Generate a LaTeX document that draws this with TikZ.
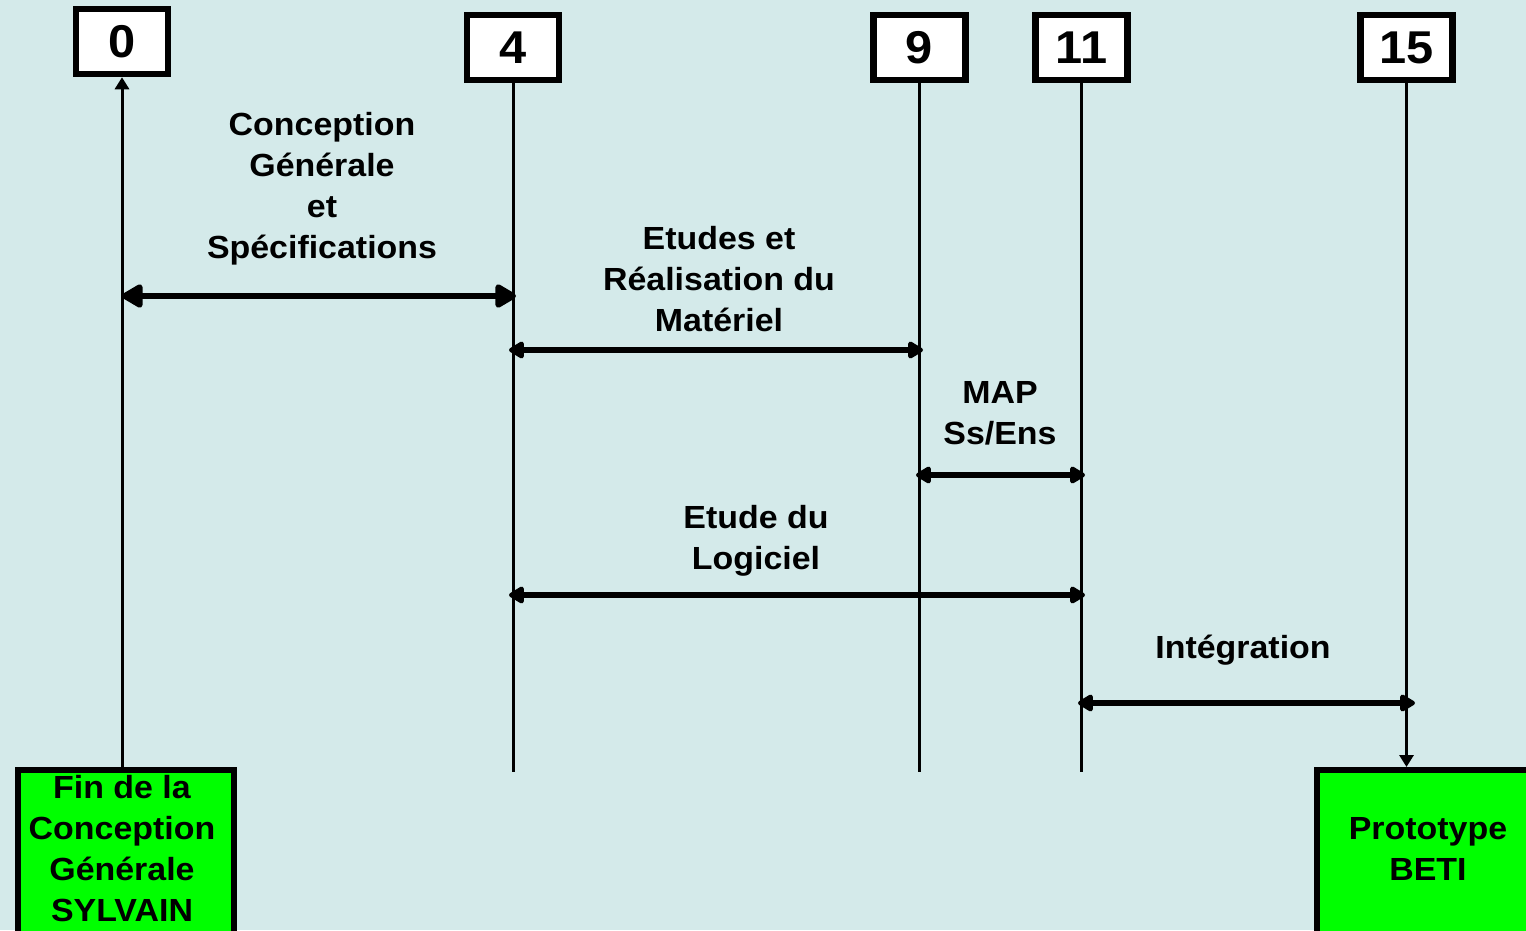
\documentclass[tikz,border=0pt]{standalone}
\usepackage{fontspec}
\setmainfont{Liberation Sans}[FakeStretch=1.06]
\usetikzlibrary{arrows.meta}
\definecolor{bgc}{HTML}{D4EAEA}
\definecolor{grn}{HTML}{00FF00}
\tikzset{
  numbox/.style={draw=black, line width=6.5pt, fill=white, minimum width=92pt, minimum height=65pt, inner sep=0pt, font=\fontsize{46}{50}\selectfont\bfseries},
  endbox/.style={draw=black, line width=6pt, fill=grn, inner sep=0pt},
  lbl/.style={align=center, font=\fontsize{32}{41}\selectfont\bfseries, inner sep=0pt},
  vline/.style={line width=3pt},
  span/.style={line width=6.5pt, {Triangle[length=17pt,width=19pt,round]}-{Triangle[length=17pt,width=19pt,round]}},
  bigspan/.style={line width=6.5pt, {Triangle[length=24pt,width=26pt,round]}-{Triangle[length=24pt,width=26pt,round]}},
  tip/.style={vline, -{Triangle[length=12pt,width=14pt]}}
}
\begin{document}
\begin{tikzpicture}[x=1pt,y=-1pt]
\fill[bgc] (0,0) rectangle (1526,930);
\useasboundingbox (0,0) rectangle (1526,930);
% top number boxes
\node[numbox] (b0) at (122,41.5) {0};
\node[numbox] (b4) at (513,47.5) {4};
\node[numbox] (b9) at (919.5,47.5) {9};
\node[numbox] (b11) at (1081.5,47.5) {11};
\node[numbox] (b15) at (1406.5,47.5) {15};
% bottom green boxes
\node[endbox, minimum width=216pt, minimum height=175pt, anchor=north west] (fin) at (15,767) {};
\node[lbl] (fintxt) at (122,849) {Fin de la\\Conception\\Générale\\SYLVAIN};
\node[endbox, minimum width=230pt, minimum height=175pt, anchor=north west] (proto) at (1314,767) {};
\node[lbl] (prototxt) at (1428,849) {Prototype\\BETI};
% bottom ends of lines
\coordinate (e4) at (512,772);
\coordinate (e9) at (919,772);
\coordinate (e11) at (1081,772);
% vertical lines
\draw[tip] (fin.north -| b0.south) -- (b0.south);
\draw[vline] (b4.south) -- (b4.south |- e4);
\draw[vline] (b9.south) -- (b9.south |- e9);
\draw[vline] (b11.south) -- (b11.south |- e11);
\draw[tip] (b15.south) -- (b15.south |- proto.north);
% span coordinates
\coordinate (s0a) at (122,296); \coordinate (s0b) at (516,296);
\coordinate (s1a) at (509,350); \coordinate (s1b) at (923,350);
\coordinate (s2a) at (916,475); \coordinate (s2b) at (1085,475);
\coordinate (s3a) at (509,595); \coordinate (s3b) at (1085,595);
\coordinate (s4a) at (1078,703); \coordinate (s4b) at (1415,703);
\draw[bigspan] (s0a) -- (s0b);
\draw[span] (s1a) -- (s1b);
\draw[span] (s2a) -- (s2b);
\draw[span] (s3a) -- (s3b);
\draw[span] (s4a) -- (s4b);
% labels
\node[lbl] (l0) at (322,189) {Conception\\Générale\\et\\Spécifications};
\node[lbl] (l1) at (719,279) {Etudes et\\Réalisation du\\Matériel};
\node[lbl] (l2) at (1000,413) {MAP\\Ss/Ens};
\node[lbl] (l3) at (756,541) {Etude du\\Logiciel};
\node[lbl] (l4) at (1243,650) {Intégration};
\end{tikzpicture}
\end{document}
